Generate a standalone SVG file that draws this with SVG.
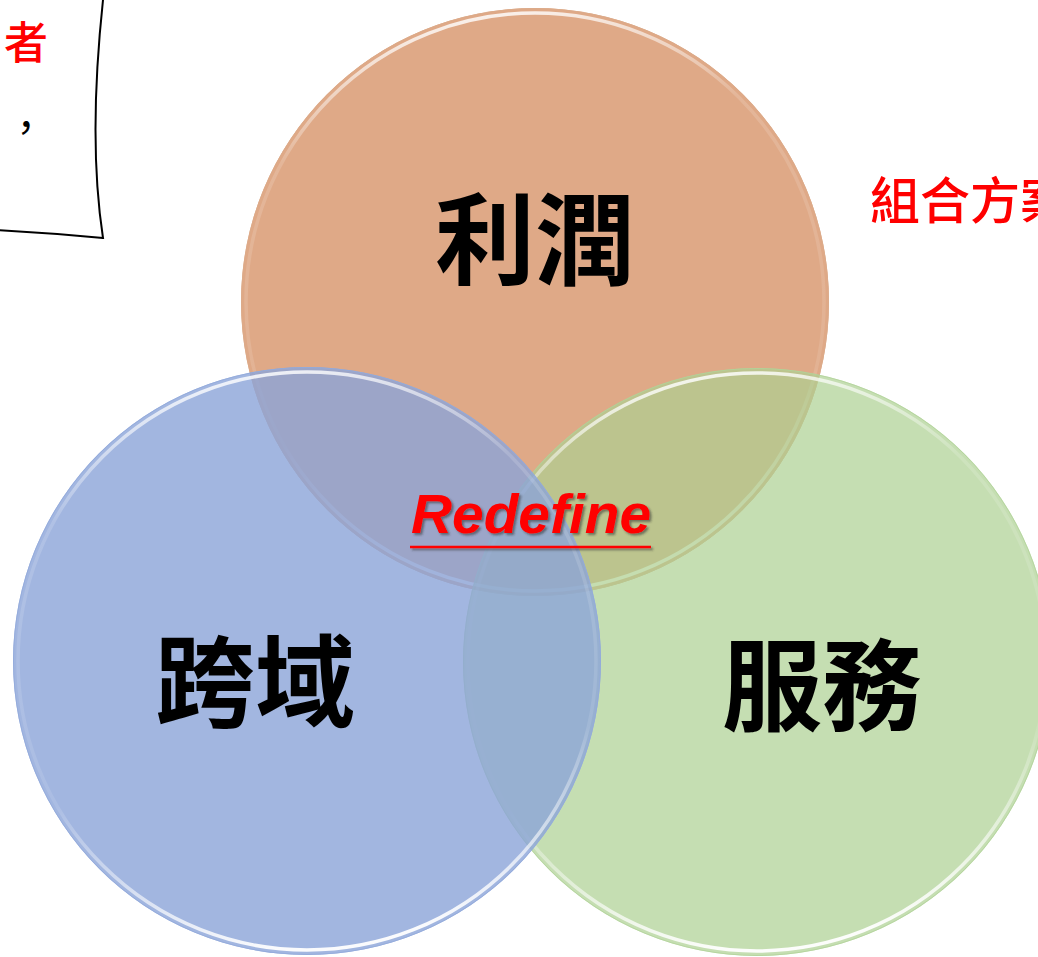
<svg xmlns="http://www.w3.org/2000/svg" width="1038" height="957" viewBox="0 0 1038 957">
  <style>
    .cjk { font-family: "Noto Sans CJK TC", "Noto Sans CJK SC", sans-serif; }
    .big { font-size: 100px; font-weight: 700; fill: #000; text-anchor: middle; }
    .red { fill: #FF0000; font-weight: 500; }
    .outline { fill: none; stroke-width: 1; }
    .rim { fill: none; stroke: url(#rimGrad); stroke-width: 3.5; }
  </style>
  <defs>
    <linearGradient id="rimGrad" x1="0.3" y1="0" x2="0.45" y2="1">
      <stop offset="0" stop-color="#ffffff" stop-opacity="0.9"/>
      <stop offset="0.22" stop-color="#ffffff" stop-opacity="0.15"/>
      <stop offset="0.7" stop-color="#ffffff" stop-opacity="0.1"/>
      <stop offset="1" stop-color="#ffffff" stop-opacity="0.95"/>
    </linearGradient>
    <filter id="shadow" x="-10%" y="-30%" width="130%" height="170%">
      <feDropShadow dx="2" dy="2" stdDeviation="1.2" flood-color="#333" flood-opacity="0.55"/>
    </filter>
  </defs>
  <rect width="1038" height="957" fill="#ffffff"/>

  <g id="callout">
    <path d="M -5,230 Q 50,233 103,238 Q 88,140 103,0 L -5,0 Z" fill="#ffffff" stroke="none"/>
    <path d="M -5,230 Q 50,233 103,238 Q 88,140 103,0" fill="none" stroke="#000" stroke-width="2"/>
    <text class="cjk red" x="4" y="59" font-size="44">者</text>
    <text class="cjk" x="6" y="142" font-size="40" fill="#000">，</text>
  </g>

  <g id="note-right">
    <text class="cjk red" x="870" y="219" font-size="50">組合方案</text>
  </g>

  <g id="circle-profit">
    <circle cx="535" cy="302" r="294" fill="#DFA987"/>
    <circle class="outline" cx="535" cy="302" r="293.5" stroke="#dcab8a"/>
    <circle class="rim" cx="535" cy="302" r="289"/>
  </g>

  <g id="circle-service">
    <circle cx="757" cy="662" r="294" fill="#ACD092" fill-opacity="0.7"/>
    <circle class="outline" cx="757" cy="662" r="293.5" stroke="#b2d39a" stroke-opacity="0.8"/>
    <circle class="rim" cx="757" cy="662" r="289"/>
  </g>

  <g id="circle-cross">
    <circle cx="307" cy="661" r="294" fill="#8BA4D8" fill-opacity="0.8"/>
    <circle class="outline" cx="307" cy="661" r="293.5" stroke="#93abdc" stroke-opacity="0.9"/>
    <circle class="rim" cx="307" cy="661" r="289"/>
  </g>

  <g id="labels">
    <text class="cjk big" x="535" y="277">利潤</text>
    <text class="cjk big" x="255" y="719">跨域</text>
    <text class="cjk big" x="822" y="723">服務</text>
  </g>

  <g id="redefine" filter="url(#shadow)">
    <text x="411" y="533" font-family="Liberation Sans, Arial, sans-serif" font-size="56" font-weight="700" font-style="italic" fill="#FF0000" textLength="240" lengthAdjust="spacingAndGlyphs">Redefine</text>
    <line x1="410" y1="547" x2="651" y2="547" stroke="#FF0000" stroke-width="2.5"/>
  </g>
</svg>
